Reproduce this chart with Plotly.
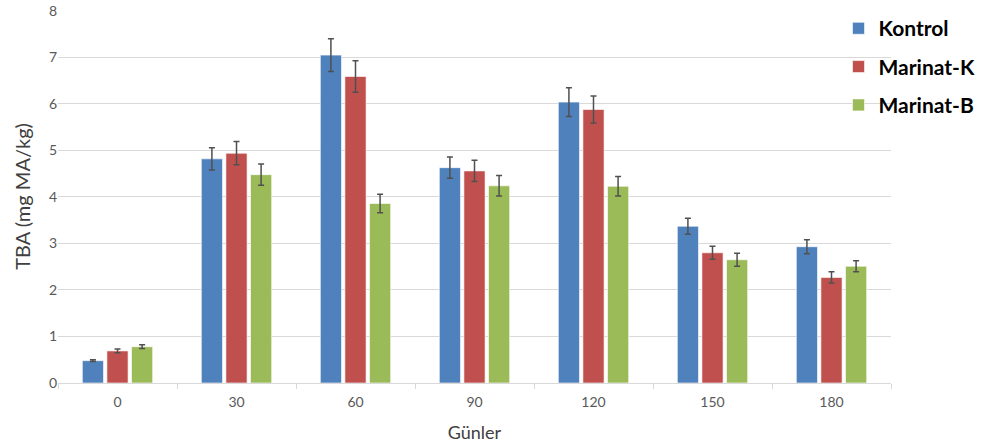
import plotly.graph_objects as go

days = ["0", "30", "60", "90", "120", "150", "180"]
kontrol = [0.48, 4.82, 7.05, 4.63, 6.04, 3.37, 2.93]
kontrol_err = [0.02, 0.24, 0.35, 0.23, 0.31, 0.17, 0.15]
marinat_k = [0.69, 4.94, 6.59, 4.56, 5.88, 2.80, 2.27]
marinat_k_err = [0.04, 0.25, 0.34, 0.23, 0.29, 0.14, 0.12]
marinat_b = [0.78, 4.48, 3.86, 4.24, 4.23, 2.65, 2.51]
marinat_b_err = [0.04, 0.23, 0.20, 0.22, 0.21, 0.14, 0.12]

series = [
    ("Kontrol", kontrol, kontrol_err, "#4F81BD"),
    ("Marinat-K", marinat_k, marinat_k_err, "#C0504D"),
    ("Marinat-B", marinat_b, marinat_b_err, "#9BBB59"),
]

FONT = "Lato, Open Sans, sans-serif"

fig = go.Figure()
for name, vals, errs, col in series:
    fig.add_trace(go.Bar(
        x=days, y=vals, name=name, legendgroup=name,
        marker=dict(color=col, line=dict(color="rgba(255,255,255,0.6)", width=1)),
        error_y=dict(type="data", array=errs, visible=True,
                     color="#505050", thickness=1.5, width=3),
    ))

fig.update_layout(
    width=981, height=446,
    margin=dict(l=58, r=90, t=10, b=63, autoexpand=False),
    paper_bgcolor="white", plot_bgcolor="white",
    barmode="group", bargap=0.38, bargroupgap=0.14,
    font=dict(family=FONT, color="#595959"),
    showlegend=True,
    legend=dict(x=0.937, y=1.005, xanchor="left", yanchor="top",
                bgcolor="rgba(0,0,0,0)", tracegroupgap=8,
                font=dict(size=21, color="black", family=FONT, weight="bold")),
    xaxis=dict(
        type="category", automargin=False,
        showline=True, linecolor="#D9D9D9", linewidth=1,
        ticks="outside", tickson="boundaries", ticklen=5, tickcolor="#D9D9D9",
        ticklabelstandoff=6,
        tickfont=dict(size=14, color="#595959"),
        title=dict(text="Günler", font=dict(size=18, color="#404040"), standoff=17),
        showgrid=False,
    ),
    yaxis=dict(
        range=[0, 8.02], tickvals=[0, 1, 2, 3, 4, 5, 6, 7, 8], automargin=False,
        showgrid=True, gridcolor="#D9D9D9", gridwidth=1,
        zeroline=False, showline=False,
        tickfont=dict(size=14, color="#595959"),
        title=dict(text="TBA (mg MA/kg)", font=dict(size=20, color="#404040"), standoff=12),
    ),
)

fig.write_html("out.html", config={"displayModeBar": False},
               post_script="document.body.style.margin='0';")
